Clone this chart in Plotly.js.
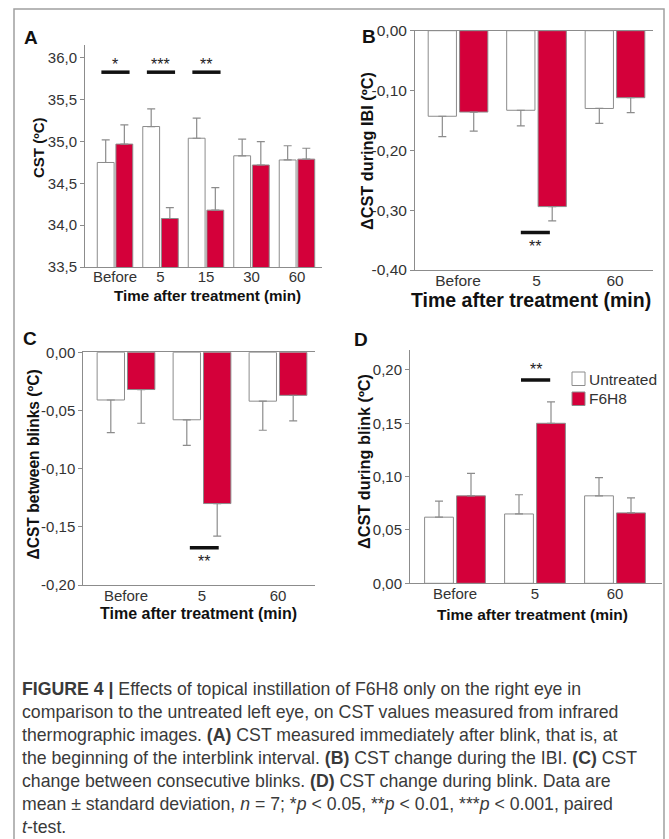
<!DOCTYPE html>
<html><head><meta charset="utf-8">
<script src="https://cdn.plot.ly/plotly-3.0.1.min.js"></script>
<style>html,body{margin:0;padding:0;background:#fff}</style>
</head><body><div id="chart" style="width:669px;height:839px"></div>
<script>
const W = 669, H = 839;
const seriesNames = ['Untreated', 'F6H8'];

// Panel A: CST immediately after blink
const catA = ['Before', '5', '15', '30', '60'];
const cstUntreated = [34.75, 35.18, 35.04, 34.83, 34.78];
const cstUntreatedSD = [0.27, 0.21, 0.24, 0.20, 0.17];
const cstF6H8 = [34.97, 34.08, 34.18, 34.72, 34.79];
const cstF6H8SD = [0.23, 0.13, 0.27, 0.28, 0.13];
const sigA = [['Before', '*'], ['5', '***'], ['15', '**']];
const ticksA = [33.5, 34.0, 34.5, 35.0, 35.5, 36.0];
const tickTextA = ['33,5', '34,0', '34,5', '35,0', '35,5', '36,0'];

// Panels B-D share categories
const catBCD = ['Before', '5', '60'];
// Panel B: change during IBI
const ibiUntreated = [-0.143, -0.133, -0.130];
const ibiUntreatedSD = [0.034, 0.026, 0.025];
const ibiF6H8 = [-0.136, -0.294, -0.112];
const ibiF6H8SD = [0.032, 0.024, 0.025];
const sigB = [['5', '**']];
const ticksB = [-0.4, -0.3, -0.2, -0.1, 0];
const tickTextB = ['-0,40', '-0,30', '-0,20', '-0,10', '0,00'];
// Panel C: change between blinks
const btwUntreated = [-0.041, -0.058, -0.042];
const btwUntreatedSD = [0.028, 0.022, 0.025];
const btwF6H8 = [-0.032, -0.130, -0.037];
const btwF6H8SD = [0.029, 0.028, 0.022];
const sigC = [['5', '**']];
const ticksC = [-0.2, -0.15, -0.1, -0.05, 0];
const tickTextC = ['-0,20', '-0,15', '-0,10', '-0,05', '0,00'];
// Panel D: change during blink
const blkUntreated = [0.062, 0.065, 0.082];
const blkUntreatedSD = [0.015, 0.018, 0.017];
const blkF6H8 = [0.082, 0.150, 0.066];
const blkF6H8SD = [0.021, 0.020, 0.014];
const sigD = [['5', '**']];
const ticksD = [0, 0.05, 0.1, 0.15, 0.2];
const tickTextD = ['0,00', '0,05', '0,10', '0,15', '0,20'];

const captionLines = [
  '<b>FIGURE 4 |</b> Effects of topical instillation of F6H8 only on the right eye in',
  'comparison to the untreated left eye, on CST values measured from infrared',
  'thermographic images. <b>(A)</b> CST measured immediately after blink, that is, at',
  'the beginning of the interblink interval. <b>(B)</b> CST change during the IBI. <b>(C)</b> CST',
  'change between consecutive blinks. <b>(D)</b> CST change during blink. Data are',
  'mean ± standard deviation, <i>n</i> = 7; *<i>p</i> &lt; 0.05, **<i>p</i> &lt; 0.01, ***<i>p</i> &lt; 0.001, paired',
  '<i>t</i>-test.'
];

const RED = '#d4003a', EDGE = '#8c8c8c', TXT = '#333333';
const F = '"Liberation Sans", Arial, Helvetica, sans-serif';
const px = x => x / W, py = y => 1 - y / H;

function bar(name, cats, vals, sd, down, xa, ya, color, offset, width) {
  const zeros = vals.map(() => 0);
  return {
    type: 'bar', name: name, x: cats, y: vals, xaxis: xa, yaxis: ya,
    offset: offset, width: width, showlegend: false, hoverinfo: 'skip',
    marker: {color: color, line: {color: EDGE, width: 1}},
    error_y: {type: 'data', symmetric: false,
      array: down ? zeros : sd, arrayminus: down ? sd : zeros,
      color: EDGE, thickness: 1.2, width: 4}
  };
}

const data = [
  bar(seriesNames[0], catA, cstUntreated, cstUntreatedSD, false, 'x', 'y', '#ffffff', -0.39, 0.37),
  bar(seriesNames[1], catA, cstF6H8, cstF6H8SD, false, 'x', 'y', RED, 0.02, 0.37),
  bar(seriesNames[0], catBCD, ibiUntreated, ibiUntreatedSD, true, 'x2', 'y2', '#ffffff', -0.38, 0.36),
  bar(seriesNames[1], catBCD, ibiF6H8, ibiF6H8SD, true, 'x2', 'y2', RED, 0.02, 0.36),
  bar(seriesNames[0], catBCD, btwUntreated, btwUntreatedSD, true, 'x3', 'y3', '#ffffff', -0.38, 0.36),
  bar(seriesNames[1], catBCD, btwF6H8, btwF6H8SD, true, 'x3', 'y3', RED, 0.02, 0.36),
  bar(seriesNames[0], catBCD, blkUntreated, blkUntreatedSD, false, 'x4', 'y4', '#ffffff', -0.38, 0.36),
  bar(seriesNames[1], catBCD, blkF6H8, blkF6H8SD, false, 'x4', 'y4', RED, 0.02, 0.36)
];

const axBase = {showline: true, linecolor: EDGE, linewidth: 1, showgrid: false, zeroline: false,
  ticks: '', fixedrange: true, tickfont: {family: F, size: 15, color: TXT}};
function xax(l, r, y, cats, range, extra) {
  return Object.assign({}, axBase, {domain: [px(l), px(r)], anchor: y, type: 'category',
    categoryorder: 'array', categoryarray: cats, range: range}, extra || {});
}
function yax(top, bottom, x, range, tv, tt, extra) {
  return Object.assign({}, axBase, {domain: [py(bottom), py(top)], anchor: x, range: range,
    tickvals: tv, ticktext: tt, ticks: 'outside', ticklen: 4, tickcolor: EDGE}, extra || {});
}

const shapes = [], annotations = [];
function sig(list, cats, xa, ya, yLine, yStar, lo, hi) {
  list.forEach(([c, s]) => {
    const i = cats.indexOf(c);
    shapes.push({type: 'line', xref: xa, yref: ya, x0: i + lo, x1: i + hi, y0: yLine, y1: yLine,
      line: {color: '#111', width: 3.5}});
    annotations.push({xref: xa, yref: ya, x: i + (lo + hi) / 2, y: yStar, text: s, showarrow: false,
      xanchor: 'center', yanchor: 'middle', yshift: -5, font: {family: F, size: 16, color: '#222'}});
  });
}
sig(sigA, catA, 'x', 'y', 35.83, 35.976, -0.30, 0.32);
sig(sigB, catBCD, 'x2', 'y2', -0.3375, -0.3527, -0.20, 0.17);
sig(sigC, catBCD, 'x3', 'y3', -0.168, -0.1757, -0.16, 0.22);
sig(sigD, catBCD, 'x4', 'y4', 0.1906, 0.2047, -0.175, 0.19);

// panel letters
[['A', 31, 38], ['B', 369, 37], ['C', 30, 338], ['D', 361, 339]].forEach(([t, x, y]) => {
  annotations.push({xref: 'paper', yref: 'paper', x: px(x), y: py(y), text: '<b>' + t + '</b>',
    showarrow: false, xanchor: 'center', yanchor: 'middle', font: {family: F, size: 19, color: '#111'}});
});
// axis titles
function title(t, x, y, size, rot) {
  annotations.push({xref: 'paper', yref: 'paper', x: px(x), y: py(y), text: '<b>' + t + '</b>',
    showarrow: false, xanchor: 'center', yanchor: 'middle', textangle: rot ? -90 : 0,
    font: {family: F, size: size, color: '#111'}});
}
title('CST (ºC)', 39, 148, 15, true);
title('ΔCST during IBI (ºC)', 367, 151, 16.3, true);
title('ΔCST between blinks (ºC)', 32.5, 465, 15.6, true);
title('ΔCST during blink (ºC)', 364, 462, 16.3, true);
title('Time after treatment (min)', 207.5, 295, 15.2, false);
title('Time after treatment (min)', 531, 300, 19.5, false);
title('Time after treatment (min)', 198.5, 613, 16, false);
title('Time after treatment (min)', 532.5, 614, 15.5, false);

// legend (panel D)
[[seriesNames[0], '#ffffff', 372], [seriesNames[1], RED, 392]].forEach(([n, c, top]) => {
  shapes.push({type: 'rect', xref: 'paper', yref: 'paper', x0: px(572), x1: px(585),
    y0: py(top + 13.5), y1: py(top), fillcolor: c, line: {color: EDGE, width: 1}});
  annotations.push({xref: 'paper', yref: 'paper', x: px(586.5), y: py(top + 7), text: n,
    showarrow: false, xanchor: 'left', yanchor: 'middle', font: {family: F, size: 15.5, color: TXT}});
});

// frame
shapes.push({type: 'rect', xref: 'paper', yref: 'paper', x0: px(14), x1: px(664), y0: -0.05, y1: py(9),
  line: {color: '#a0a0a0', width: 1.5}, fillcolor: 'rgba(0,0,0,0)', layer: 'below'});

// caption
captionLines.forEach((t, i) => {
  annotations.push({xref: 'paper', yref: 'paper', x: px(20), y: py(689 + 23 * i), text: t,
    showarrow: false, xanchor: 'left', yanchor: 'middle', align: 'left',
    font: {family: F, size: 17.7, color: '#3a3a3a'}});
});

const layout = {
  width: W, height: H, margin: {l: 0, r: 0, t: 0, b: 0}, paper_bgcolor: '#fff', plot_bgcolor: 'rgba(0,0,0,0)',
  barmode: 'overlay', showlegend: false, font: {family: F, color: TXT},
  xaxis: xax(85, 322, 'y', catA, [-0.66, 4.55], {ticklabelstandoff: -4}),
  yaxis: yax(45, 267, 'x', [33.5, 36.155], ticksA, tickTextA),
  xaxis2: xax(415, 653, 'y2', catBCD, [-0.548, 2.484], {mirror: true, ticklabelstandoff: -4,
    tickfont: {family: F, size: 15.5, color: TXT}}),
  yaxis2: yax(30.7, 270, 'x2', [-0.4, 0], ticksB, tickTextB, {tickfont: {family: F, size: 15.5, color: TXT}}),
  xaxis3: xax(83.3, 315, 'y3', catBCD, [-0.562, 2.487], {mirror: true, ticklabelstandoff: -3}),
  yaxis3: yax(352.3, 585, 'x3', [-0.2, 0], ticksC, tickTextC),
  xaxis4: xax(410, 662, 'y4', catBCD, [-0.5625, 2.5875], {ticklabelstandoff: -3}),
  yaxis4: yax(350, 583.3, 'x4', [0, 0.2187], ticksD, tickTextD),
  shapes: shapes, annotations: annotations
};
Plotly.newPlot('chart', data, layout, {displayModeBar: false, staticPlot: true});
</script></body></html>
